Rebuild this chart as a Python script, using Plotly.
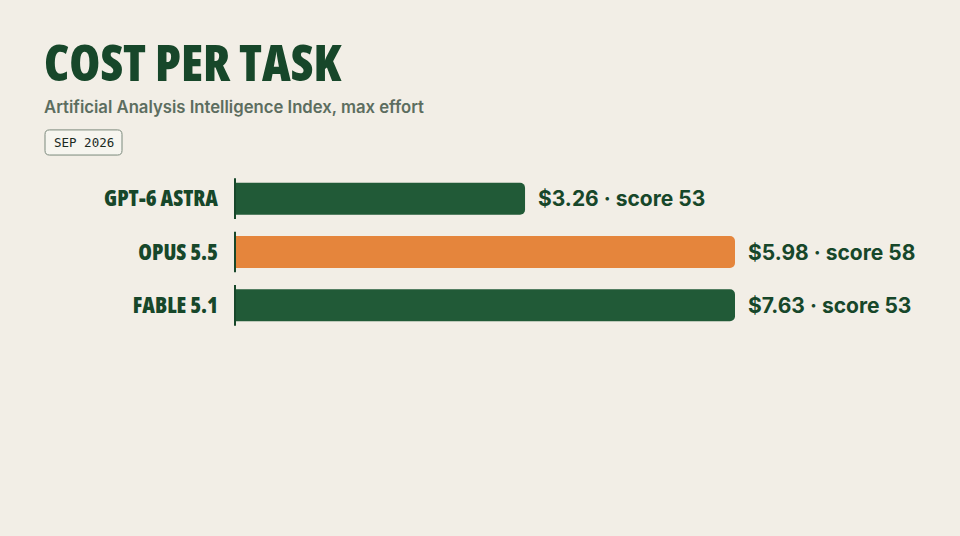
import plotly.graph_objects as go

# data
models = ["GPT-6 ASTRA", "OPUS 5.5", "FABLE 5.1"]
cost = [3.26, 5.98, 7.63]
score = [53, 58, 53]
highlight = [False, True, False]
axis_max = 5.62  # bars longer than this are capped at the edge

GREEN = "#215a37"
ORANGE = "#e5853c"
DARK = "#17472a"
BG = "#f2eee6"


def narrow(s):
    return "<span style='font-stretch:condensed'>%s</span>" % s


shown = [min(c, axis_max) for c in cost]
colors = [ORANGE if h else GREEN for h in highlight]
labels = ["$%.2f · score %d" % (c, s) for c, s in zip(cost, score)]

fig = go.Figure()
fig.add_trace(go.Bar(x=shown, y=models, orientation="h",
                     marker=dict(color=colors, line=dict(width=0), cornerradius=5),
                     hoverinfo="skip"))

# short axis stub next to each bar
fig.add_trace(go.Scatter(x=[0] * len(models), y=models, mode="markers",
                         marker=dict(symbol="line-ns", size=29,
                                     line=dict(color=DARK, width=2)),
                         cliponaxis=False, hoverinfo="skip"))

for m, v, t in zip(models, shown, labels):
    fig.add_annotation(x=v, y=m, text=t, xanchor="left", showarrow=False,
                       xshift=11, font=dict(family="Inter", size=21, color=DARK, weight=700))

# header (paper coords: x 0..1 = 235..735 px, y 0..1 = 332..172 px)
fig.add_annotation(xref="paper", yref="paper", x=-0.386, y=1.69, xanchor="left", yanchor="middle",
                   text=narrow("COST PER TASK"), showarrow=False,
                   font=dict(family="Open Sans", size=50, color=DARK, weight=800))
fig.add_annotation(xref="paper", yref="paper", x=-0.386, y=1.405, xanchor="left", yanchor="middle",
                   text="Artificial Analysis Intelligence Index, max effort", showarrow=False,
                   font=dict(family="Inter", size=16.7, color="#5c6d5f", weight=600))

# date badge
x0, x1, y0, y1 = -0.38, -0.226, 1.106, 1.263
rx, ry = 0.009, 0.028
fig.add_shape(type="path", xref="paper", yref="paper", layer="below",
              path=("M%f,%f L%f,%f Q%f,%f %f,%f L%f,%f Q%f,%f %f,%f L%f,%f Q%f,%f %f,%f "
                    "L%f,%f Q%f,%f %f,%f Z") % (
                  x0 + rx, y0, x1 - rx, y0, x1, y0, x1, y0 + ry,
                  x1, y1 - ry, x1, y1, x1 - rx, y1,
                  x0 + rx, y1, x0, y1, x0, y1 - ry,
                  x0, y0 + ry, x0, y0, x0 + rx, y0),
              fillcolor="#f6f5ef", line=dict(color="#7b897c", width=1))
fig.add_annotation(xref="paper", yref="paper", x=(x0 + x1) / 2, y=(y0 + y1) / 2,
                   xanchor="center", yanchor="middle",
                   text="SEP 2026", showarrow=False,
                   font=dict(family="DejaVu Sans Mono", size=12.5, color="#1a2a1f"))

fig.update_layout(
    width=960, height=536,
    paper_bgcolor=BG, plot_bgcolor=BG,
    showlegend=False,
    bargap=0.4,
    margin=dict(l=235, r=225, t=172, b=204),
    xaxis=dict(range=[0, axis_max], visible=False, fixedrange=True),
    yaxis=dict(autorange="reversed", showgrid=False, zeroline=False, showline=False,
               ticks="", ticklabelstandoff=16, fixedrange=True,
               tickvals=models, ticktext=[narrow(m) for m in models],
               tickfont=dict(family="Open Sans", size=22, color=DARK, weight=800)),
)

fig.write_html("out.html", config={"displayModeBar": False},
               post_script="document.body.style.margin='0';")
